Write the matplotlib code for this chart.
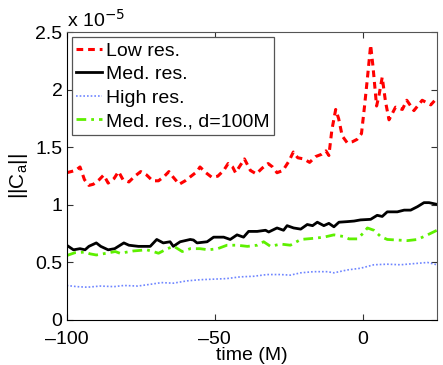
import numpy as np
import matplotlib
matplotlib.use('Agg')
import matplotlib.pyplot as plt
from matplotlib.ticker import FuncFormatter

plt.rcParams['font.family'] = ['Liberation Sans', 'DejaVu Sans']

# values in units of 1e-5
t_low = [-100, -97, -95.5, -94, -92.5, -91, -89, -87.5, -86, -84, -82.5, -81, -79, -77, -75, -73,
         -71, -69, -67, -65.5, -64, -62, -60, -58, -56, -55, -53, -51, -49, -47, -45.5, -44, -43,
         -41.5, -40, -38, -36, -34, -32, -30.5, -29, -27, -25, -23.5, -22, -20, -18, -16, -14,
         -12.5, -11.5, -10.5, -9.2, -8.2, -7, -5.3, -3.5, -2, -0.5, 0.5, 1.5, 2.6, 3.4, 4.6,
         5.4, 6.5, 7.6, 8.8, 11, 13.3, 14.8, 17.2, 20, 22.9, 25]
v_low = [1.28, 1.30, 1.33, 1.22, 1.17, 1.18, 1.22, 1.26, 1.19, 1.23, 1.29, 1.22, 1.20, 1.25, 1.29,
         1.26, 1.21, 1.21, 1.25, 1.29, 1.24, 1.18, 1.21, 1.25, 1.29, 1.33, 1.28, 1.24, 1.25, 1.30,
         1.36, 1.33, 1.28, 1.34, 1.40, 1.30, 1.27, 1.32, 1.36, 1.33, 1.28, 1.30, 1.38, 1.46, 1.41,
         1.40, 1.37, 1.42, 1.44, 1.47, 1.43, 1.65, 1.83, 1.75, 1.60, 1.54, 1.55, 1.57, 1.62, 1.85,
         2.10, 2.39, 2.20, 1.86, 1.95, 2.11, 1.90, 1.74, 1.85, 1.83, 1.91, 1.82, 1.91, 1.87, 1.93]

t_med = [-100, -97.7, -95.5, -93.8, -92.5, -90, -88.5, -86, -83.8, -80.7, -79, -75.8, -71.8, -69.6,
         -67.4, -65.1, -64, -61.7, -58.3, -57.2, -56, -52.6, -50.4, -47, -44.8, -42.5, -40.3, -38.6,
         -35.7, -32.9, -31.8, -29, -26.8, -25.6, -23.4, -21, -18.8, -17, -15.4, -13.2, -11.5, -9.8,
         -8.1, -5.3, -3, -0.8, 2.6, 4.8, 6.5, 8.2, 11.6, 13.9, 16.1, 18.4, 20.6, 22.3, 25]
v_med = [0.65, 0.61, 0.62, 0.61, 0.64, 0.67, 0.64, 0.61, 0.62, 0.67, 0.65, 0.64, 0.64, 0.70, 0.67,
         0.68, 0.64, 0.68, 0.70, 0.695, 0.67, 0.68, 0.72, 0.72, 0.70, 0.74, 0.72, 0.77, 0.77, 0.78,
         0.765, 0.80, 0.78, 0.82, 0.80, 0.79, 0.83, 0.82, 0.85, 0.82, 0.84, 0.81, 0.85, 0.855, 0.86,
         0.87, 0.875, 0.91, 0.90, 0.94, 0.94, 0.955, 0.955, 0.985, 1.02, 1.02, 1.005]

t_high = [-100, -96.6, -93, -88.7, -84, -80.7, -76, -71.8, -68, -64, -59.4, -55, -50.4, -46, -41.4,
          -36.9, -32.4, -27.8, -24.5, -21, -16.6, -12, -9.8, -5.3, -0.8, 3.7, 8.2, 12.7, 17.2,
          21.8, 25]
v_high = [0.30, 0.29, 0.285, 0.295, 0.29, 0.30, 0.295, 0.31, 0.325, 0.32, 0.34, 0.35, 0.355, 0.36,
          0.375, 0.38, 0.395, 0.395, 0.39, 0.41, 0.42, 0.42, 0.41, 0.435, 0.45, 0.48, 0.485, 0.48,
          0.49, 0.50, 0.48]

t_d100 = [-100, -97.2, -93.8, -92.1, -90, -86.7, -83.6, -82, -77.5, -73, -70.8, -69, -66, -63.8,
          -61, -58.3, -55, -52.2, -49, -45.9, -42.5, -39, -35.7, -33.5, -31.2, -27.8, -24.5, -21,
          -16.6, -13.2, -9.8, -6.4, -4.7, -1.9, 0.3, 1.5, 3.7, 6, 8.2, 11.6, 15, 18.4, 21.8, 25]
v_d100 = [0.56, 0.585, 0.59, 0.575, 0.565, 0.58, 0.595, 0.58, 0.60, 0.61, 0.595, 0.58, 0.62, 0.64,
          0.595, 0.62, 0.62, 0.61, 0.62, 0.65, 0.65, 0.64, 0.65, 0.68, 0.64, 0.66, 0.65, 0.70,
          0.71, 0.72, 0.74, 0.725, 0.705, 0.705, 0.76, 0.80, 0.78, 0.725, 0.70, 0.695, 0.69, 0.70,
          0.74, 0.78]

labels = ['Low res.', 'Med. res.', 'High res.', 'Med. res., d=100M']
xtick_vals = [-100, -50, 0]
xtick_labels = ['\u2013100', '\u201350', '0']
scale = 1e-5

fig = plt.figure(figsize=(4.43, 3.65), dpi=100)
ax = fig.add_axes([0.1505, 0.1233, 0.836, 0.788])

ax.plot(t_low, np.array(v_low) * scale, color='#ff0000', lw=2.2, ls=(0, (2.2, 1.6)), label=labels[0])
ax.plot(t_med, np.array(v_med) * scale, color='black', lw=2.0, ls='-', label=labels[1])
ax.plot(t_high, np.array(v_high) * scale, color='#6f86ff', lw=1.2, ls=(0, (1, 1.2)), label=labels[2])
ax.plot(t_d100, np.array(v_d100) * scale, color='#5ef000', lw=2.0, ls=(0, (3.5, 1.8, 1, 1.8)), label=labels[3])

ax.set_xlim(-100, 25)
ax.set_ylim(0, 2.5e-5)
ax.set_xticks(xtick_vals)
ax.set_xticklabels(xtick_labels)
ax.set_yticks(np.arange(0, 2.51, 0.5) * scale)
ax.yaxis.set_major_formatter(FuncFormatter(lambda v, p: '%g' % round(v / scale, 2)))

ax.tick_params(direction='in', top=True, right=True, labelsize=14, length=4, width=0.8,
               colors='#333333', labelcolor='black', pad=3)
ax.tick_params(axis='x', pad=8)
for s in ax.spines.values():
    s.set_color('#555555')
    s.set_linewidth(0.8)
ax.spines['left'].set_color('black')
ax.spines['bottom'].set_color('black')

ax.text(0.0, 1.005, 'x 10$^{\u22125}$', transform=ax.transAxes, fontsize=14, ha='left', va='bottom')

ax.set_xlabel('time (M)', fontsize=14, labelpad=-1)
ax.set_ylabel('||C$_\\mathregular{a}$||', fontsize=15, labelpad=4)

leg = ax.legend(loc='upper left', fontsize=14, handlelength=1.3, handletextpad=0.2,
                labelspacing=0.3, borderpad=0.25, borderaxespad=0.25, fancybox=False,
                framealpha=1)
leg.get_frame().set_edgecolor('#555555')
leg.get_frame().set_linewidth(0.9)

fig.savefig('out.png', dpi=100)
